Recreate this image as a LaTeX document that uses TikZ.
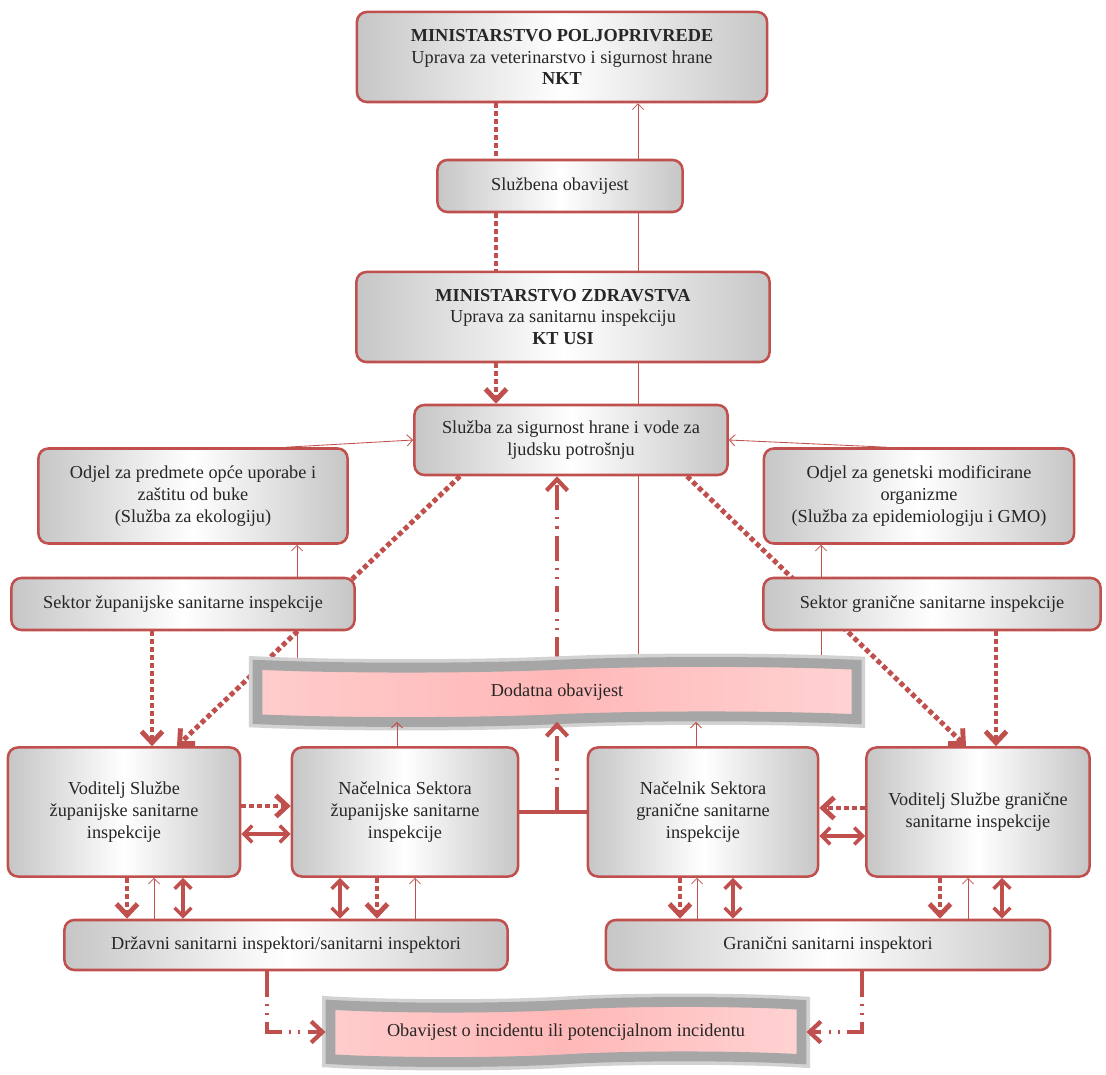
\documentclass[tikz,border=0pt]{standalone}
\usepackage{fontspec}
\setmainfont{Liberation Serif}
\usetikzlibrary{arrows.meta,shapes.symbols}
\definecolor{boxred}{RGB}{192,80,77}
\pgfdeclarelayer{back}
\pgfsetlayers{back,main}
\pgfdeclarehorizontalshading{greybox}{100bp}{color(0bp)=(gray!90); color(22bp)=(gray!50); color(50bp)=(white); color(78bp)=(gray!50); color(100bp)=(gray!90)}
\pgfdeclarehorizontalshading{pinkbox}{100bp}{color(0bp)=(red!12); color(50bp)=(red!28); color(100bp)=(red!7)}
\begin{document}
\begin{tikzpicture}[x=0.025cm,y=-0.025cm,
  orgbox/.style={draw=boxred, line width=1.8pt, rounded corners=7pt, shading=greybox, align=center, inner sep=2pt, text=black!85, font=\fontsize{13}{15.5}\selectfont},
  notice/.style={tape, tape bend top=in and out, tape bend bottom=in and out, tape bend height=4pt, draw=gray!70, line width=7pt, preaction={draw=gray!35, line width=12pt}, shading=pinkbox, align=center, text=black!85, font=\fontsize{13}{15.5}\selectfont},
  hair/.style={boxred, line width=0.6pt},
  hairtip/.style={-{Straight Barb[length=4pt,width=8pt]}},
  dotline/.style={boxred, line width=3.5pt, dash pattern=on 3.5pt off 2.2pt},
  bigtip/.style={-{Straight Barb[length=8pt,width=15pt]}},
  twoway/.style={boxred, line width=2.5pt, {Straight Barb[length=6pt,width=12pt]}-{Straight Barb[length=6pt,width=12pt]}},
  dashdotline/.style={boxred, line width=3pt, dash pattern=on 18pt off 5pt on 1.5pt off 5pt on 1.5pt off 5pt}]
\useasboundingbox (0,0) rectangle (1106,1075);

\node[orgbox, minimum width=10.25cm, minimum height=2.25cm] (mp) at (562,57) {\textbf{MINISTARSTVO POLJOPRIVREDE}\\Uprava za veterinarstvo i sigurnost hrane\\\textbf{NKT}};
\node[orgbox, minimum width=6.125cm, minimum height=1.3cm] (so) at (560,186) {Službena obavijest};
\node[orgbox, minimum width=10.325cm, minimum height=2.25cm] (mz) at (563,317) {\textbf{MINISTARSTVO ZDRAVSTVA}\\Uprava za sanitarnu inspekciju\\\textbf{KT USI}};
\node[orgbox, minimum width=7.825cm, minimum height=1.75cm] (ss) at (571,440) {Služba za sigurnost hrane i vode za\\ljudsku potrošnju};
\node[orgbox, minimum width=7.725cm, minimum height=2.375cm] (od1) at (193,496) {Odjel za predmete opće uporabe i\\zaštitu od buke\\(Služba za ekologiju)};
\node[orgbox, minimum width=7.75cm, minimum height=2.375cm] (od2) at (919,496) {Odjel za genetski modificirane\\organizme\\(Služba za epidemiologiju i GMO)};
\node[orgbox, minimum width=8.575cm, minimum height=1.3cm] (sz) at (183,604) {Sektor županijske sanitarne inspekcije};
\node[orgbox, minimum width=8.425cm, minimum height=1.3cm] (sg) at (932,604) {Sektor granične sanitarne inspekcije};
\node[notice, minimum width=14.975cm, minimum height=1.5cm] (dod) at (557,692) {Dodatna obavijest};
\node[orgbox, minimum width=5.8cm, minimum height=3.225cm] (v1) at (124,812) {Voditelj Službe\\županijske sanitarne\\inspekcije};
\node[orgbox, minimum width=5.65cm, minimum height=3.225cm] (n1) at (405,812) {Načelnica Sektora\\županijske sanitarne\\inspekcije};
\node[orgbox, minimum width=5.75cm, minimum height=3.225cm] (n2) at (703,812) {Načelnik Sektora\\granične sanitarne\\inspekcije};
\node[orgbox, minimum width=5.575cm, minimum height=3.225cm] (v2) at (978,812) {Voditelj Službe granične\\sanitarne inspekcije};
\node[orgbox, minimum width=11.075cm, minimum height=1.25cm] (di) at (286,945) {Državni sanitarni inspektori/sanitarni inspektori};
\node[orgbox, minimum width=11.1cm, minimum height=1.25cm] (gi) at (828,945) {Granični sanitarni inspektori};
\node[notice, minimum width=11.775cm, minimum height=1.5cm] (ob) at (566,1032) {Obavijest o incidentu ili potencijalnom incidentu};
\coordinate (jn) at (557,0 |- n1.east);

\begin{pgfonlayer}{back}
% ministries
\draw[dotline] (496,0 |- mp.south) -- (496,0 |- so.north);
\draw[dotline] (496,0 |- so.south) -- (496,0 |- mz.north);
\draw[dotline, bigtip] (496,0 |- mz.south) -- (496,0 |- ss.north);
\draw[hair, hairtip] (638,0 |- dod.north) -- (638,0 |- mp.south);
% odjeli and sektori
\draw[hair, hairtip] (286,0 |- od1.north) -- (ss.west);
\draw[hair, hairtip] (887,0 |- od2.north) -- (ss.east);
\draw[hair, hairtip] (297,0 |- sz.north) -- (297,0 |- od1.south);
\draw[hair, hairtip] (821,0 |- sg.north) -- (821,0 |- od2.south);
\draw[hair] (297,0 |- dod.north) -- (297,0 |- sz.south);
\draw[hair] (821,0 |- dod.north) -- (821,0 |- sg.south);
\draw[dotline, bigtip] (460,0 |- ss.south) -- (177,0 |- v1.north);
\draw[dotline, bigtip] (687,0 |- ss.south) -- (966,0 |- v2.north);
\draw[dotline, bigtip] (152,0 |- sz.south) -- (152,0 |- v1.north);
\draw[dotline, bigtip] (996,0 |- sg.south) -- (996,0 |- v2.north);
\draw[dashdotline, bigtip] (557,0 |- dod.north) -- (557,0 |- ss.south);
\end{pgfonlayer}
% dodatna obavijest
\draw[hair, hairtip] (397,0 |- n1.north) -- (397,0 |- dod.south);
\draw[hair, hairtip] (696,0 |- n2.north) -- (696,0 |- dod.south);
\draw[boxred, line width=2.5pt] (n1.east) -- (n2.west);
\draw[dashdotline, bigtip] (jn) -- (557,0 |- dod.south);
% voditelji and nacelnici
\draw[dotline, bigtip] (v1.east |- 0,806) -- (n1.west |- 0,806);
\draw[twoway] (v1.east |- 0,834) -- (n1.west |- 0,834);
\draw[dotline, bigtip] (v2.west |- 0,808) -- (n2.east |- 0,808);
\draw[twoway] (n2.east |- 0,836) -- (v2.west |- 0,836);
% inspektori
\draw[dotline, bigtip] (127,0 |- v1.south) -- (127,0 |- di.north);
\draw[hair, hairtip] (154,0 |- di.north) -- (154,0 |- v1.south);
\draw[twoway] (183,0 |- v1.south) -- (183,0 |- di.north);
\draw[twoway] (340,0 |- n1.south) -- (340,0 |- di.north);
\draw[dotline, bigtip] (377,0 |- n1.south) -- (377,0 |- di.north);
\draw[hair, hairtip] (415,0 |- di.north) -- (415,0 |- n1.south);
\draw[dotline, bigtip] (680,0 |- n2.south) -- (680,0 |- gi.north);
\draw[hair, hairtip] (697,0 |- gi.north) -- (697,0 |- n2.south);
\draw[twoway] (733,0 |- n2.south) -- (733,0 |- gi.north);
\draw[dotline, bigtip] (940,0 |- v2.south) -- (940,0 |- gi.north);
\draw[hair, hairtip] (968,0 |- gi.north) -- (968,0 |- v2.south);
\draw[twoway] (1002,0 |- v2.south) -- (1002,0 |- gi.north);
% incident
\draw[dashdotline, bigtip] (267,0 |- di.south) |- (ob.west);
\draw[dashdotline, bigtip] (862,0 |- gi.south) |- (ob.east);
\end{tikzpicture}
\end{document}
